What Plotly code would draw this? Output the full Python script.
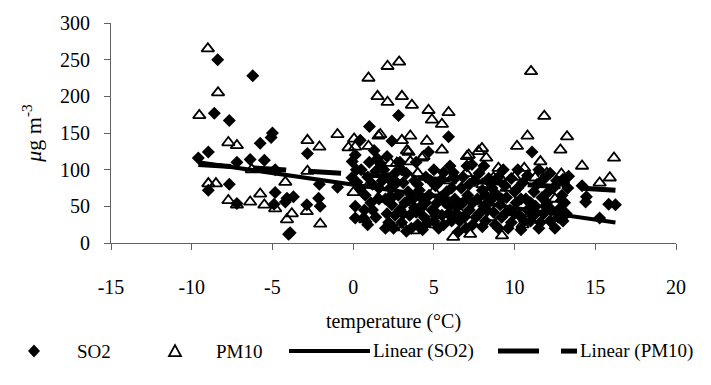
import plotly.graph_objects as go

# ---------------- data ----------------
so2_x = [-9.59, -8.97, -8.39, -8.6, -7.67, -7.2, -8.97, -7.67, -7.2, -6.22, -5.76, -5.08, -5.0,
         -6.38, -5.5, -4.83, -4.83, -4.9, -4.2, -4.0, -3.9, -4.1, -3.7, -2.83, -2.09, -0.97,
         -2.87, -2.14, -2.04,
         -0.08, 0.23, 0.44, 0.13, 0.13, 0.75, 0.64, 0.44, 0.13, -0.06, 1.01, 1.3, 1.5, 1.7,
         1.4, 0.9, 1.1, 1.2, 1.6, 1.8, 2.0, 2.1, 2.2, 2.3, 2.4, 2.5, 2.4, 2.6, 2.81, 2.8,
         2.9, 3.0, 3.1, 3.2, 3.3, 3.4, 3.5, 3.0, 3.7, 3.8, 3.9, 4.0, 4.1, 4.2, 4.4, 4.5,
         4.67, 4.7, 4.9, 5.0, 5.1, 5.2, 5.3, 5.4, 5.6, 5.5, 5.8, 5.91, 6.0, 6.1, 6.2, 6.3,
         6.4, 6.5, 6.7, 6.8, 6.9, 7.05, 7.1, 7.2, 7.36, 7.4, 7.5, 7.7, 7.8, 8.0, 8.1, 8.2,
         8.4, 8.5, 8.7, 8.8, 9.0, 9.1, 9.2, 9.4, 9.5, 9.7, 9.8, 10.0, 10.1, 10.3, 10.4,
         10.5, 10.7, 10.8, 11.08, 11.0, 11.2, 11.3, 11.5, 11.8, 11.7, 11.8, 12.0, 12.2,
         12.4, 12.8, 12.94, 13.0, 13.04, 13.35, 12.9, 13.2, 13.0,
         14.18, 14.45, 14.4, 15.83, 16.25, 15.27,
         0.5, 0.7, 0.9, 1.0, 1.2, 1.4, 1.6, 1.9, 2.0, 2.2, 2.4, 2.6, 2.7, 2.9, 3.1, 3.3,
         3.5, 3.6, 3.8, 4.0, 4.2, 4.3, 4.5, 4.6, 4.8, 5.0, 5.2, 5.4, 5.6, 5.7, 5.9, 6.1,
         6.3, 6.5, 6.6, 6.8, 7.0, 7.2, 7.4, 7.6, 7.8, 8.0, 8.2, 8.3, 8.6, 8.8, 9.0, 9.2,
         9.4, 9.6, 9.8, 10.0, 10.2, 10.4, 10.6, 10.8, 11.0, 11.2, 11.4, 11.6, 11.9, 12.1,
         12.3, 12.5, 12.6, 12.7, 13.1, 13.3, 12.2, 11.5, 10.2, 9.3, 8.1, 6.0, 3.9, 2.1, 0.2]
so2_y = [116, 124, 250, 177, 167, 110, 72, 80, 54, 228, 136, 144, 150,
         114, 113, 100, 69, 53, 56, 12, 14, 61, 63, 122, 80, 76,
         52, 61, 50,
         89, 83, 74, 50, 34, 65, 34, 140, 120, 111, 159, 126, 115, 108,
         98, 90, 55, 45, 75, 85, 60, 40, 28, 75, 52, 20, 139, 95, 174, 65,
         45, 28, 82, 55, 16, 70, 38, 100, 60, 85, 42, 25, 72, 50, 35, 90,
         124, 65, 45, 30, 78, 55, 20, 62, 96, 38, 70, 145, 50, 30, 96, 60,
         40, 15, 75, 55, 35, 105, 65, 45, 107, 25, 85, 60, 40, 72, 50, 30,
         88, 58, 42, 68, 20, 52, 35, 78, 62, 45, 28, 70, 55, 38, 18,
         82, 60, 45, 124, 30, 70, 50, 20, 87, 62, 40, 55, 30,
         75, 47, 65, 30, 83, 91, 58, 40, 87,
         78, 63, 56, 53, 52, 34,
         100, 45, 25, 110, 80, 35, 60, 100, 20, 88, 62, 38, 82, 110, 40, 95,
         60, 20, 48, 80, 62, 18, 55, 28, 85, 100, 40, 85, 25, 55, 40, 75,
         88, 50, 30, 90, 20, 80, 55, 35, 95, 22, 65, 45, 75, 25, 90, 60,
         40, 20, 88, 40, 75, 60, 30, 92, 55, 38, 80, 28, 50, 70,
         45, 20, 85, 35, 55, 75, 95, 100, 100, 100, 105, 105, 110, 118, 100]

pm10_x = [-9.0, -8.37, -9.53, -7.73, -7.2, -8.97, -8.5, -7.73, -7.2, -6.28, -6.38, -5.76,
          -5.5, -4.83, -4.2, -4.1, -3.8, -2.83, -2.09, -2.83, -0.97, -2.04, -2.87,
          0.95, 2.13, 2.85, 1.51, 2.13, 3.02, 3.64, 1.57, 0.06, -0.29, 0.13, 0.95,
          4.67, 5.91, 4.88, 5.5, 1.68, 3.02, 3.54, 4.57, 5.5, 3.43, 2.3, 2.71, 4.36, 7.05,
          7.77, 3.33, 4.26, 3.54, 2.92, 7.16, 7.98, 8.25, 9.0, 9.1, 8.7,
          11.02, 11.84, 10.8, 10.15, 13.25, 12.84, 10.6, 11.6, 11.28, 12.9, 12.99, 14.18,
          16.16, 15.9, 15.27,
          0.02, 0.75, 2.5, 3.74, 5.1, 6.2, 7.25, 9.22, 3.0,
          1.0, 2.0, 4.0, 6.0, 5.0, 7.0, 8.0, 10.0, 12.0, 1.5, 3.5, 6.5, 8.5, 9.5, 11.0,
          12.5, 10.5, 4.5, 2.5]
pm10_y = [265, 205, 174, 137, 133, 81, 81, 58, 52, 100, 56, 67,
          52, 47, 83, 32, 40, 140, 131, 98, 148, 26, 43,
          225, 241, 247, 200, 192, 200, 188, 146, 142, 130, 131, 132,
          181, 178, 168, 162, 148, 140, 146, 139, 127, 124, 109, 109, 118, 118,
          125, 126, 116, 111, 102, 120, 129, 116, 102, 89, 89,
          234, 173, 146, 132, 145, 127, 102, 111, 89, 94, 83, 105,
          116, 89, 82,
          69, 32, 21, 17, 25, 8, 12, 10, 25,
          80, 90, 95, 85, 70, 95, 80, 90, 95, 60, 55, 45, 35, 75, 40,
          60, 25, 40, 70]

# linear trend lines (end points)
trend_x = [-9.59, 16.25]
trend_so2_y = [110, 28]
trend_pm10_y = [107, 72]

x_ticks = [-15, -10, -5, 0, 5, 10, 15, 20]
x_ticktext = ["-15", "-10", "-5", "0", "5", "10", "15", "20"]
y_ticks = [0, 50, 100, 150, 200, 250, 300]
y_ticktext = ["0", "50", "100", "150", "200", "250", "300"]

legend_labels = ["SO2", "PM10", "Linear (SO2)", "Linear (PM10)"]

FONT = "Liberation Serif"

fig = go.Figure()
fig.add_trace(go.Scatter(x=so2_x, y=so2_y, mode="markers", name=legend_labels[0],
                         marker=dict(symbol="diamond", size=10, color="black",
                                     line=dict(width=0))))
fig.add_trace(go.Scatter(x=pm10_x, y=pm10_y, mode="markers", name=legend_labels[1],
                         marker=dict(symbol="triangle-up-open", size=11, color="black",
                                     line=dict(width=1.8, color="black"))))
fig.add_trace(go.Scatter(x=trend_x, y=trend_so2_y, mode="lines", name=legend_labels[2],
                         line=dict(color="black", width=4)))
fig.add_trace(go.Scatter(x=trend_x, y=trend_pm10_y, mode="lines", name=legend_labels[3],
                         line=dict(color="black", width=5, dash="33px,22px")))

L, R, T, B = 111, 35, 15, 142
PW, PH = 711 - L - R, 385 - T - B


def px_x(px):
    return (px - L) / PW


def px_y(py):
    return (385 - B - py) / PH


LEG_Y = 355
shapes = []
annots = []
cy = px_y(LEG_Y)
# diamond symbol
shapes.append(dict(type="path", xref="paper", yref="paper", xsizemode="pixel", ysizemode="pixel",
                   xanchor=px_x(34), yanchor=cy, path="M -6 0 L 0 6.5 L 6 0 L 0 -6.5 Z",
                   fillcolor="black", line=dict(width=0)))
# triangle symbol
shapes.append(dict(type="path", xref="paper", yref="paper", xsizemode="pixel", ysizemode="pixel",
                   xanchor=px_x(175), yanchor=cy, path="M -6 -5 L 6 -5 L 0 6 Z",
                   fillcolor="rgba(0,0,0,0)", line=dict(width=1.8, color="black")))
# solid line
shapes.append(dict(type="line", xref="paper", yref="paper", x0=px_x(289), x1=px_x(370),
                   y0=cy, y1=cy, line=dict(color="black", width=4)))
# dashed line pieces
shapes.append(dict(type="line", xref="paper", yref="paper", x0=px_x(498), x1=px_x(539),
                   y0=cy, y1=cy, line=dict(color="black", width=5)))
shapes.append(dict(type="line", xref="paper", yref="paper", x0=px_x(561), x1=px_x(577),
                   y0=cy, y1=cy, line=dict(color="black", width=5)))

for txt, px in zip(legend_labels, [75, 214, 371, 578]):
    annots.append(dict(text=txt, x=px_x(px), y=cy, xref="paper", yref="paper",
                       xanchor="left", yanchor="middle", showarrow=False,
                       font=dict(family=FONT, size=19, color="black")))

axis_common = dict(showline=True, linecolor="#606060", linewidth=1, ticks="outside",
                   ticklen=6, tickcolor="#606060", showgrid=False, zeroline=False,
                   tickfont=dict(family=FONT, size=20, color="black"))

fig.update_layout(
    width=711, height=385,
    margin=dict(l=L, r=R, t=T, b=B, pad=0),
    paper_bgcolor="white", plot_bgcolor="white",
    showlegend=False,
    shapes=shapes, annotations=annots,
    xaxis=dict(range=[-15, 20], tickvals=x_ticks, ticktext=x_ticktext, ticklabelstandoff=20,
               title=dict(text="temperature (°C)", standoff=16,
                          font=dict(family=FONT, size=20, color="black")),
               **axis_common),
    yaxis=dict(range=[0, 300], tickvals=y_ticks, ticktext=y_ticktext, ticklabelstandoff=10,
               title=dict(text="<i>μ</i>g m<sup>-3</sup>", standoff=12,
                          font=dict(family=FONT, size=22, color="black")),
               **axis_common),
)

fig.write_html("out.html")
